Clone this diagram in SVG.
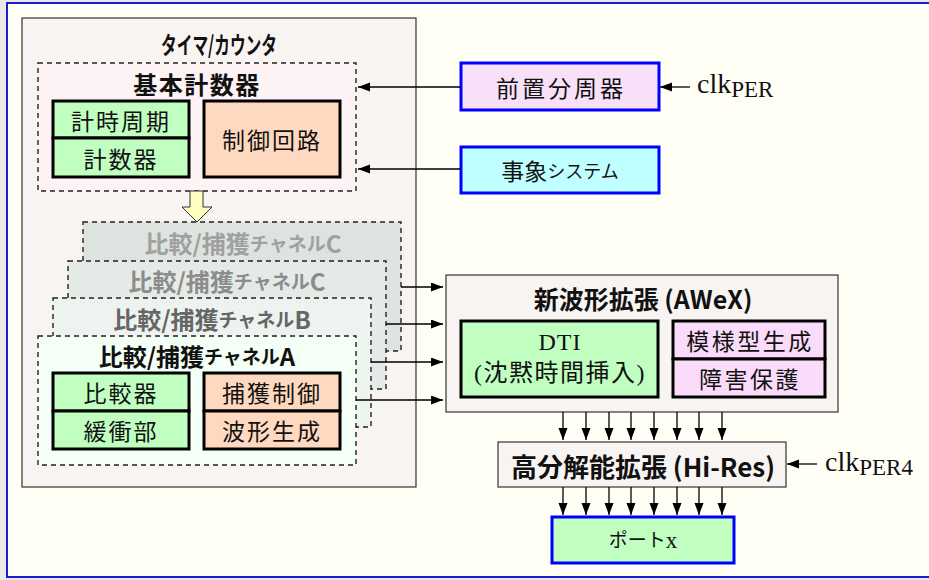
<svg xmlns="http://www.w3.org/2000/svg" width="929" height="580" viewBox="0 0 929 580">
  <style>
    .g { font-family: "Noto Sans CJK JP", sans-serif; }
    .m { font-family: "Liberation Serif", "Noto Sans CJK JP", serif; }
    .b { font-weight: bold; }
    text { dominant-baseline: central; text-anchor: middle; fill: #111; }
    .plain { fill: #f8f4f2; stroke: #333; stroke-width: 1.2; }
    .dash { stroke: #222; stroke-width: 1.4; stroke-dasharray: 5 4; }
    .thick { stroke: #000; stroke-width: 3; }
    .blue { stroke: #0000ff; stroke-width: 3; }
    .green { fill: #c0ffc0; }
    .peach { fill: #ffd8c0; }
    .lilac { fill: #fadcfa; }
    .wire { stroke: #000; stroke-width: 1.3; fill: none; marker-end: url(#ah); }
    .chan { font-size: 24px; }
    .chan tspan { font-size: 19px; }
  </style>
  <defs>
    <marker id="ah" markerUnits="userSpaceOnUse" markerWidth="12" markerHeight="10" refX="12" refY="4.5" orient="auto">
      <path d="M0,0 L12,4.5 L0,9 z" fill="#000"/>
    </marker>
  </defs>

  <!-- page background and frame -->
  <rect x="0" y="0" width="929" height="580" fill="#e9e9e9"/>
  <rect x="7" y="3" width="930" height="574" fill="#fffff6" stroke="#1c1cd0" stroke-width="2"/>

  <!-- timer / counter block -->
  <g id="timer">
    <rect class="plain" x="22" y="18" width="394" height="469"/>
    <text class="g b" x="219" y="43" font-size="24" textLength="116" lengthAdjust="spacingAndGlyphs">タイマ/カウンタ</text>
  </g>

  <g id="base-counter">
    <rect class="dash" x="38" y="63" width="318" height="128" fill="#fdf3f4"/>
    <text class="g b" x="197" y="83" font-size="24" letter-spacing="1.5">基本計数器</text>
    <rect class="thick green" x="53" y="101" width="136" height="37"/>
    <text class="g" x="121" y="119.5" font-size="23" letter-spacing="2">計時周期</text>
    <rect class="thick green" x="53" y="138" width="136" height="39"/>
    <text class="g" x="121" y="157.5" font-size="23" letter-spacing="2">計数器</text>
    <rect class="thick peach" x="204" y="101" width="136" height="76"/>
    <text class="g" x="272" y="139" font-size="23" letter-spacing="2">制御回路</text>
  </g>

  <!-- hollow arrow from base counter to channels -->
  <g id="flow-arrow">
    <polygon points="190,191 203,191 203,207 212,207 197,222 182,207 190,207" fill="#ffffc0" stroke="#333" stroke-width="1"/>
  </g>

  <!-- compare / capture channels, back to front -->
  <g id="channel-c2">
    <rect class="dash" x="83" y="222" width="318" height="129" fill="#dde3df"/>
    <text class="g b chan" x="243" y="242" style="fill:#a0a0a0">比較/捕獲<tspan>チャネル</tspan>C</text>
  </g>
  <g id="channel-c">
    <rect class="dash" x="68" y="261" width="318" height="128" fill="#e4ebe6"/>
    <text class="g b chan" x="227" y="280" style="fill:#8c8c8c">比較/捕獲<tspan>チャネル</tspan>C</text>
  </g>
  <g id="channel-b">
    <rect class="dash" x="53" y="298" width="318" height="129" fill="#edf3ef"/>
    <text class="g b chan" x="212" y="318" style="fill:#666">比較/捕獲<tspan>チャネル</tspan>B</text>
  </g>
  <g id="channel-a">
    <rect class="dash" x="38" y="336" width="318" height="129" fill="#f4fff6"/>
    <text class="g b chan" x="197" y="355">比較/捕獲<tspan>チャネル</tspan>A</text>
    <rect class="thick green" x="53" y="373" width="136" height="38"/>
    <text class="g" x="121" y="392" font-size="23" letter-spacing="2">比較器</text>
    <rect class="thick green" x="53" y="411" width="136" height="38"/>
    <text class="g" x="121" y="430" font-size="23" letter-spacing="2">緩衝部</text>
    <rect class="thick peach" x="204" y="373" width="136" height="38"/>
    <text class="g" x="272" y="392" font-size="23" letter-spacing="2">捕獲制御</text>
    <rect class="thick peach" x="204" y="411" width="136" height="38"/>
    <text class="g" x="272" y="430" font-size="23" letter-spacing="2">波形生成</text>
  </g>

  <!-- clock sources -->
  <g id="prescaler">
    <rect class="blue" x="461" y="63" width="198" height="47" fill="#f8e0f8"/>
    <text class="g" x="561" y="86.5" font-size="23" letter-spacing="3">前置分周器</text>
  </g>
  <g id="event-system">
    <rect class="blue" x="461" y="147" width="198" height="46" fill="#c0ffff"/>
    <text class="g" x="560" y="170" font-size="23">事象<tspan font-size="18">システム</tspan></text>
  </g>
  <g id="clk-per">
    <text class="m" x="697" y="93" font-size="28" style="text-anchor:start;dominant-baseline:auto">clk<tspan font-size="23" dy="4">PER</tspan></text>
  </g>

  <!-- advanced waveform extension -->
  <g id="awex">
    <rect class="plain" x="446" y="275" width="392" height="137"/>
    <text class="g b" x="643" y="298" font-size="25">新波形拡張 (AWeX)</text>
    <rect class="thick green" x="461" y="321" width="197" height="76"/>
    <text class="m" x="560" y="342" font-size="24" letter-spacing="1">DTI</text>
    <text class="m" x="560" y="373" font-size="24" letter-spacing="1.5">(沈黙時間挿入)</text>
    <rect class="thick lilac" x="673" y="321" width="152" height="38"/>
    <text class="g" x="750" y="340" font-size="23" letter-spacing="2.5">模様型生成</text>
    <rect class="thick lilac" x="673" y="359" width="152" height="38"/>
    <text class="g" x="750" y="378" font-size="23" letter-spacing="2.5">障害保護</text>
  </g>

  <!-- high resolution extension -->
  <g id="hires">
    <rect class="plain" x="498" y="442" width="288" height="45"/>
    <text class="g b" x="643" y="465" font-size="26">高分解能拡張 (Hi-Res)</text>
  </g>
  <g id="clk-per4">
    <text class="m" x="825" y="471" font-size="28" style="text-anchor:start;dominant-baseline:auto">clk<tspan font-size="23" dy="4">PER4</tspan></text>
  </g>

  <g id="port">
    <rect class="blue" x="552" y="517" width="182" height="46" fill="#c0ffc0"/>
    <text class="m" x="643" y="540" font-size="23"><tspan font-size="19">ポート</tspan>x</text>
  </g>

  <!-- connectors -->
  <g id="connectors">
    <line class="wire" x1="461" y1="87" x2="358" y2="87"/>
    <line class="wire" x1="461" y1="169" x2="358" y2="169"/>
    <line class="wire" x1="690" y1="87" x2="660" y2="87"/>
    <line class="wire" x1="817" y1="464" x2="787" y2="464"/>

    <path class="wire" d="M401,287 H443"/>
    <path class="wire" d="M386,324 H443"/>
    <path class="wire" d="M371,362 H443"/>
    <path class="wire" d="M356,400 H443"/>

    <path class="wire" d="M563,412 V440"/>
    <path class="wire" d="M586,412 V440"/>
    <path class="wire" d="M609,412 V440"/>
    <path class="wire" d="M631,412 V440"/>
    <path class="wire" d="M654,412 V440"/>
    <path class="wire" d="M677,412 V440"/>
    <path class="wire" d="M699,412 V440"/>
    <path class="wire" d="M722,412 V440"/>

    <path class="wire" d="M563,487 V515"/>
    <path class="wire" d="M586,487 V515"/>
    <path class="wire" d="M609,487 V515"/>
    <path class="wire" d="M631,487 V515"/>
    <path class="wire" d="M654,487 V515"/>
    <path class="wire" d="M677,487 V515"/>
    <path class="wire" d="M699,487 V515"/>
    <path class="wire" d="M722,487 V515"/>
  </g>
</svg>
